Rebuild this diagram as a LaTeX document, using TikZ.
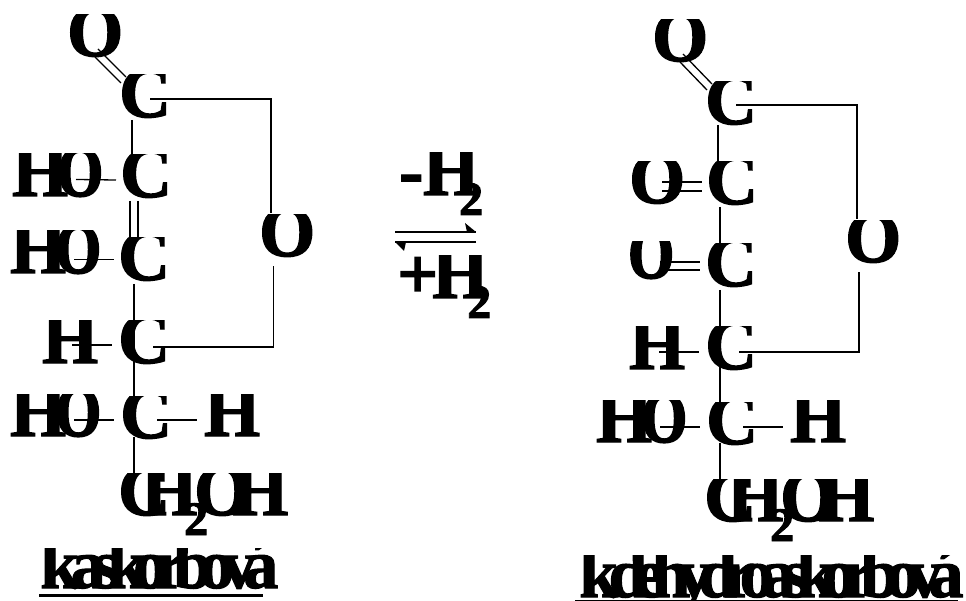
\documentclass[tikz,border=0pt]{standalone}
\usepackage{fontspec}
\setmainfont{Liberation Serif}
\newfontfamily\chemf[FakeBold=2]{Liberation Serif Bold}
\newfontfamily\narrowf[FakeStretch=.82,FakeBold=2.5]{Liberation Serif Bold}
\newfontfamily\namelf[FakeBold=1.6,LetterSpace=-18.5]{Liberation Serif Bold}
\newfontfamily\namerf[FakeBold=1.6,LetterSpace=-19.4]{Liberation Serif Bold}
\newcommand\bigf{\chemf\fontsize{72}{72}\selectfont}
\newcommand\narf{\narrowf\fontsize{72}{72}\selectfont}
\newcommand\subf{\chemf\fontsize{48}{48}\selectfont}
\newcommand\mysub{\raisebox{-20pt}{\subf 2}}
\newcommand\hydro{H\kern-11pt{\narf O}}
\newcommand\methyl{C\kern-29ptH\kern-13pt\mysub\kern-14ptO\kern-18ptH}
\newcommand\atom[4]{% name, x, baseline, text: every glyph is cut at the top
  \begin{scope}\clip (#2-5,#3-42) rectangle (#2+200,#3+30);
  \node[atomtext] (#1) at (#2,#3) {#4};\end{scope}}
\newcommand\clipC[3]{% name, x, baseline: C cut at the right and top
  \begin{scope}\clip (#2,#3-42) rectangle (#2+47,#3+10);
  \node[atomtext] (#1) at (#2,#3) {C};\end{scope}}
\newcommand\clipO[3]{% name, x, baseline: O cut at the top
  \begin{scope}\clip (#2-5,#3-41) rectangle (#2+60,#3+10);
  \node[atomtext] (#1) at (#2,#3) {O};\end{scope}}
\newcommand\clipN[3]{% name, x, baseline: lower, narrower O
  \begin{scope}\clip (#2-5,#3-36) rectangle (#2+60,#3+10);
  \node[atomtext,font=\narf] (#1) at (#2,#3) {O};\end{scope}}
\tikzset{
  atomtext/.style={anchor=base west,inner sep=0pt,font=\bigf,text=black},
  nametext/.style={anchor=base west,inner sep=0pt,text=black},
  bond/.style={draw=black,line width=1.3pt},
  halftip/.style={fill=black,draw=none}
}
\begin{document}
\begin{tikzpicture}[x=1pt,y=-1pt]
\useasboundingbox (0,0) rectangle (966,601);
\fill[white] (0,0) rectangle (966,601);
% left molecule
\clipO{lO}{67}{56}
\clipC{lCa}{119}{117}
\atom{lHOa}{12}{196}{\hydro}
\clipC{lCb}{120}{197}
\atom{lHOb}{10}{273}{\hydro}
\clipC{lCc}{118}{280}
\atom{lHc}{42}{363}{H}
\clipC{lCd}{118}{363}
\atom{lHOe}{10}{436}{\hydro}
\clipC{lCe}{120}{438}
\atom{lHe}{204}{436}{H}
\atom{lCH}{118}{515}{\methyl}
\clipO{lRO}{259}{256}
\begin{scope}\clip (30,548) rectangle (300,600);
\node[nametext,font=\namelf\fontsize{70}{70}\selectfont] (lName) at (40,588) {k.askorbová};
\end{scope}
% left bonds
\draw[bond] ([shift={(28,1)}]lO.base west) -- ([shift={(2,-34)}]lCa.base west);
\draw[bond] ([shift={(31,-7)}]lO.base west) -- ([shift={(7,-40)}]lCa.base west);
\draw[bond] ([shift={(31,-18)}]lCa.base west) -| ([shift={(12,-43)}]lRO.base west);
\draw[bond] ([shift={(13,3)}]lCa.base west) -- ([shift={(12,-40)}]lCb.base west);
\draw[bond] ([shift={(64,-16.5)}]lHOa.base west) -- ([shift={(-4,-17)}]lCb.base west);
\draw[bond] ([shift={(10,4)}]lCb.base west) -- ([shift={(12,-41)}]lCc.base west);
\draw[bond] ([shift={(18,4)}]lCb.base west) -- ([shift={(20,-41)}]lCc.base west);
\draw[bond] ([shift={(64,-13.5)}]lHOb.base west) -- ([shift={(-4,-20.5)}]lCc.base west);
\draw[bond] ([shift={(16,4)}]lCc.base west) -- ([shift={(14,-41)}]lCe.base west);
\draw[bond] ([shift={(30,-18)}]lHc.base west) -- ([shift={(-6,-18)}]lCd.base west);
\draw[bond] ([shift={(35,-16)}]lCd.base west) -| ([shift={(14.5,10)}]lRO.base west);
\draw[bond] ([shift={(64,-16)}]lHOe.base west) -- ([shift={(-6,-18)}]lCe.base west);
\draw[bond] ([shift={(37,-18)}]lCe.base west) -- ([shift={(-7,-16)}]lHe.base west);
\draw[bond] ([shift={(14,-1)}]lCe.base west) -- ([shift={(16,-40)}]lCH.base west);
\draw[draw=black,line width=3pt] ([shift={(-1,7)}]lName.base west) -- ([shift={(223,7)}]lName.base west);
% right molecule
\clipO{rO}{652}{61}
\clipC{rCa}{705}{124}
\clipO{rOb}{629}{203}
\clipC{rCb}{706}{204}
\clipN{rOc}{628}{278}
\clipC{rCc}{705}{286}
\atom{rHd}{629}{369}{H}
\clipC{rCd}{705}{369}
\atom{rHOe}{596}{442}{\hydro}
\clipC{rCe}{706}{444}
\atom{rHe}{790}{442}{H}
\atom{rCH}{704}{521}{\methyl}
\clipO{rRO}{845}{262}
\begin{scope}\clip (570,555) rectangle (966,601);
\node[nametext,font=\namerf\fontsize{70}{70}\selectfont] (rName) at (579,597) {k.dehydroaskorbová};
\end{scope}
% right bonds
\draw[bond] ([shift={(28,1)}]rO.base west) -- ([shift={(2,-34)}]rCa.base west);
\draw[bond] ([shift={(31,-7)}]rO.base west) -- ([shift={(7,-40)}]rCa.base west);
\draw[bond] ([shift={(31,-19)}]rCa.base west) -| ([shift={(12,-43)}]rRO.base west);
\draw[bond] ([shift={(13,1)}]rCa.base west) -- ([shift={(12,-41)}]rCb.base west);
\draw[bond] ([shift={(33,-21)}]rOb.base west) -- ([shift={(-4,-22)}]rCb.base west);
\draw[bond] ([shift={(33,-12)}]rOb.base west) -- ([shift={(-4,-13)}]rCb.base west);
\draw[bond] ([shift={(14,3)}]rCb.base west) -- ([shift={(15,-41)}]rCc.base west);
\draw[bond] ([shift={(32,-16)}]rOc.base west) -- ([shift={(-5,-24)}]rCc.base west);
\draw[bond] ([shift={(32,-8)}]rOc.base west) -- ([shift={(-5,-16)}]rCc.base west);
\draw[bond] ([shift={(15,4)}]rCc.base west) -- ([shift={(14,-40)}]rCe.base west);
\draw[bond] ([shift={(30,-17)}]rHd.base west) -- ([shift={(-6,-17)}]rCd.base west);
\draw[bond] ([shift={(34,-17)}]rCd.base west) -| ([shift={(14,10)}]rRO.base west);
\draw[bond] ([shift={(64,-15)}]rHOe.base west) -- ([shift={(-6,-17)}]rCe.base west);
\draw[bond] ([shift={(37,-17)}]rCe.base west) -- ([shift={(-7,-15)}]rHe.base west);
\draw[bond] ([shift={(14,-1)}]rCe.base west) -- ([shift={(16,-40)}]rCH.base west);
\draw[draw=black,line width=2pt] ([shift={(-4,4)}]rName.base west) -- ([shift={(379,4)}]rName.base west);
% centre
\atom{mMinus}{399}{195}{-H\kern-20pt\mysub}
\atom{mPlus}{397}{298}{+\kern-6ptH\kern-21pt\mysub}
\coordinate (aL) at (395,232);
\coordinate (aR) at (476,232);
\coordinate (bL) at (395,242);
\coordinate (bR) at (476,242);
\draw[bond] (aL) -- (aR);
\fill[halftip] (aR) -- ++(-11,-9) -- ++(2,9) -- cycle;
\draw[bond] (bR) -- (bL);
\fill[halftip] (bL) -- ++(9,9) -- ++(2,-9) -- cycle;
\end{tikzpicture}
\end{document}
